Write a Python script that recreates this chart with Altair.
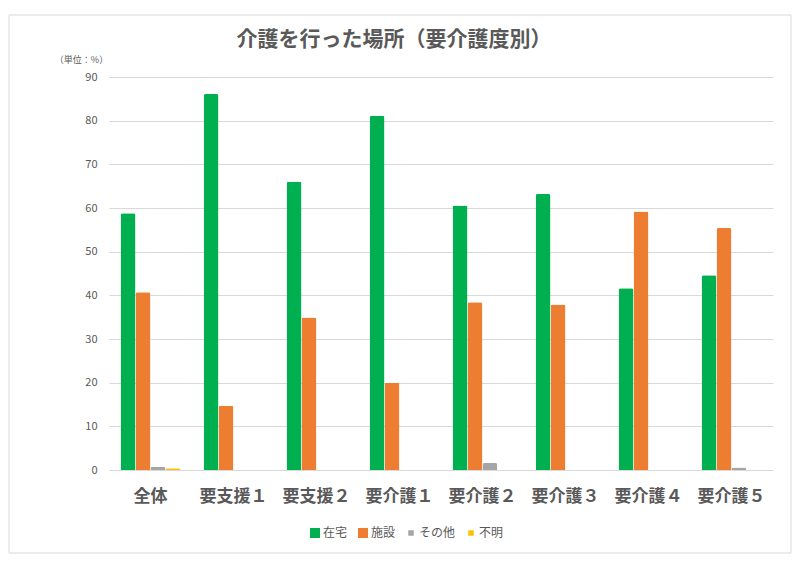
import altair as alt
import pandas as pd

categories = ["全体", "要支援１", "要支援２", "要介護１", "要介護２", "要介護３", "要介護４", "要介護５"]
series = ["在宅", "施設", "その他", "不明"]
zaitaku = [58.8, 86.1, 66.0, 81.1, 60.6, 63.2, 41.6, 44.6]
shisetsu = [40.7, 14.7, 34.9, 20.0, 38.4, 37.9, 59.2, 55.4]
sonota = [0.7, 0.0, 0.0, 0.0, 1.6, 0.0, 0.0, 0.6]
fumei = [0.4, 0.0, 0.0, 0.0, 0.0, 0.0, 0.0, 0.0]
colors = ["#00B050", "#ED7D31", "#A5A5A5", "#FFC000"]
y_ticks = [0, 10, 20, 30, 40, 50, 60, 70, 80, 90]

rows = []
for i, c in enumerate(categories):
    for s, vals in zip(series, [zaitaku, shisetsu, sonota, fumei]):
        rows.append({"cat": c, "series": s, "value": vals[i]})
df = pd.DataFrame(rows)

font = "Noto Sans CJK JP"
grey = "#595959"

bars = alt.Chart(df).mark_bar(cornerRadiusTopLeft=2, cornerRadiusTopRight=2).encode(
    x=alt.X(
        "cat:N", sort=categories,
        scale=alt.Scale(paddingInner=0.28, paddingOuter=0.14),
        axis=alt.Axis(title=None, labelAngle=0, ticks=False, domain=False, grid=False,
                      labelPadding=18, labelFontSize=17, labelFontWeight="bold",
                      labelColor=grey),
    ),
    xOffset=alt.XOffset("series:N", sort=series),
    y=alt.Y(
        "value:Q", scale=alt.Scale(domain=[0, 90]),
        axis=alt.Axis(values=y_ticks, title="（単位：%）", titleAngle=0, titleX=-28, titleY=-18,
                      titleAlign="center", titleBaseline="middle", titleFontSize=9,
                      titleFontWeight="normal", titleColor=grey,
                      labelFontSize=11, labelColor=grey, labelPadding=12,
                      ticks=False, domain=False, gridColor="#D9D9D9"),
    ),
    color=alt.Color(
        "series:N", sort=series,
        scale=alt.Scale(domain=series, range=colors),
        legend=alt.Legend(title=None, orient="none", legendX=200, legendY=450,
                          direction="horizontal", columns=4,
                          labelFontSize=12, labelColor=grey, symbolType="square",
                          symbolSize=alt.ExprRef("indexof(['その他','不明'], datum.value) >= 0 ? 30 : 100"),
                          symbolStrokeWidth=0, columnPadding=9, labelOffset=2),
    ),
)

border = alt.Chart(alt.Data(values=[{}])).mark_rect(
    fillOpacity=0, stroke="#D9D9D9", strokeWidth=1
).encode(
    x=alt.value(-100), x2=alt.value(682), y=alt.value(-62), y2=alt.value(476)
)

chart = alt.layer(border, bars).properties(
    width=664, height=393,
    padding={"top": 6, "left": 0, "right": 0, "bottom": 0},
    title=alt.Title("介護を行った場所（要介護度別）", fontSize=21, color=grey, font=font,
                    fontWeight="bold", anchor="middle", frame="bounds", offset=-35, dx=-6),
).configure(font=font).configure_view(stroke="transparent")

chart.save("out.html", embed_options={"renderer": "svg", "actions": False})
